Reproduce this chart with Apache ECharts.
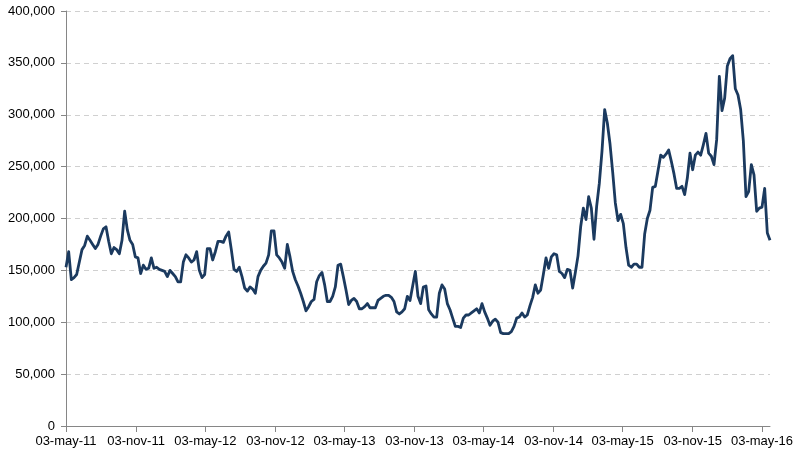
<!DOCTYPE html>
<html>
<head>
<meta charset="utf-8">
<script src="https://cdn.jsdelivr.net/npm/echarts@6/dist/echarts.min.js"></script>
<style>
html,body{margin:0;padding:0;background:#fff;}
#chart{width:797px;height:452px;}
</style>
</head>
<body>
<div id="chart"></div>
<script>
// Weekly series, starting 03-may-11
var startDate = [2011, 4, 3];
var values = [
153000,168000,141000,143000,146000,158000,170000,174000,183000,179000,
175000,171000,175000,183000,190000,192000,178000,166000,172000,170000,
166000,179000,207000,189000,179000,175000,163000,162000,147000,155000,
151000,152000,162000,152000,153000,151000,150000,149000,144000,150000,
147000,144000,139000,139000,158000,165000,162000,158000,160000,168000,
150000,143000,146000,171000,171000,160000,168000,178000,178000,177000,
183000,187000,170000,151000,149000,153000,144000,
133000,130000,134000,132000,128000,144000,150000,154000,157000,165000,
188000,188000,165000,162000,158000,152000,175000,163000,149000,141000,
135000,128000,120000,111000,115000,120000,122000,139000,145000,148000,
136000,120000,120000,125000,134000,155000,156000,144000,131000,117000,
121000,123000,120000,113000,113000,115000,118000,114000,114000,114000,
121000,123000,125000,126000,126000,124000,120000,110000,108000,110000,
113000,125000,121000,135000,149000,125000,118000,134000,135000,112000,
108000,105000,105000,128000,136000,132000,118000,112000,104000,96000,
96000,95000,104000,107000,107000,109000,111000,113000,109000,118000,
110000,104000,97000,101000,103000,100000,90000,89000,89000,89000,
91000,96000,104000,105000,109000,105000,107000,116000,124000,136000,
128000,131000,146000,162000,152000,163000,166000,165000,149000,147000,
143000,151000,150000,133000,148000,164000,192000,210000,199000,221000,
210000,180000,212000,
234000,265000,305000,292000,272000,245000,215000,198000,204000,195000,
172000,155000,153000,156000,156000,153000,153000,185000,200000,208000,
230000,231000,246000,261000,259000,262000,266000,255000,243000,229000,
229000,231000,223000,239000,263000,247000,261000,264000,261000,271000,
282000,263000,260000,252000,276000,337000,304000,316000,347000,354000,
357000,325000,319000,305000,275000,221000,226000,252000,242000,207000,
210000,211000,229000,186000,179000
];
var tickDates = [
  [2011,4,3],[2011,10,3],[2012,4,3],[2012,10,3],[2013,4,3],[2013,10,3],
  [2014,4,3],[2014,10,3],[2015,4,3],[2015,10,3],[2016,4,3]
];
var tickLabels = ['03-may-11','03-nov-11','03-may-12','03-nov-12','03-may-13','03-nov-13',
  '03-may-14','03-nov-14','03-may-15','03-nov-15','03-may-16'];
var yMin = 0, yMax = 400000, yStep = 50000;

var DAY = 86400000;
var t0 = Date.UTC(startDate[0], startDate[1], startDate[2]);
var seriesData = values.map(function (v, i) {
  return [Date.UTC(startDate[0], startDate[1], startDate[2] + 7 * i), v];
});
var tickTimes = tickDates.map(function (d) { return Date.UTC(d[0], d[1], d[2]); });
var lastTime = seriesData[seriesData.length - 1][0];

function fmtNum(v) {
  return String(v).replace(/\B(?=(\d{3})+(?!\d))/g, ',');
}

var chart = echarts.init(document.getElementById('chart'), null, {renderer: 'canvas'});
chart.setOption({
  animation: false,
  backgroundColor: '#ffffff',
  grid: {left: 66, right: 27, top: 11, bottom: 26, containLabel: false},
  xAxis: {
    type: 'value',
    min: t0,
    max: lastTime,
    axisLine: {show: true, onZero: false, lineStyle: {color: '#868686', width: 1}},
    axisTick: {show: true, length: 6, lineStyle: {color: '#868686'}, customValues: tickTimes},
    axisLabel: {
      customValues: tickTimes,
      margin: 9,
      color: '#000',
      fontFamily: 'Liberation Sans, Arial, sans-serif',
      fontSize: 13,
      hideOverlap: false,
      formatter: function (val) {
        for (var k = 0; k < tickTimes.length; k++) {
          if (Math.abs(tickTimes[k] - val) < DAY / 2) return tickLabels[k];
        }
        return '';
      }
    },
    splitLine: {show: false}
  },
  yAxis: {
    type: 'value',
    min: yMin,
    max: yMax,
    interval: yStep,
    axisLine: {show: true, lineStyle: {color: '#868686', width: 1}},
    axisTick: {show: true, length: 5, lineStyle: {color: '#868686'}},
    axisLabel: {
      margin: 11,
      color: '#000',
      fontFamily: 'Liberation Sans, Arial, sans-serif',
      fontSize: 13,
      formatter: function (v) { return fmtNum(v); }
    },
    splitLine: {show: true, lineStyle: {color: '#d0d0d0', type: [5, 4], width: 1}}
  },
  series: [{
    type: 'line',
    data: seriesData,
    showSymbol: false,
    smooth: false,
    lineStyle: {color: '#1b3a5f', width: 2.8, join: 'round'},
    itemStyle: {color: '#1b3a5f'}
  }]
});
</script>
</body>
</html>
